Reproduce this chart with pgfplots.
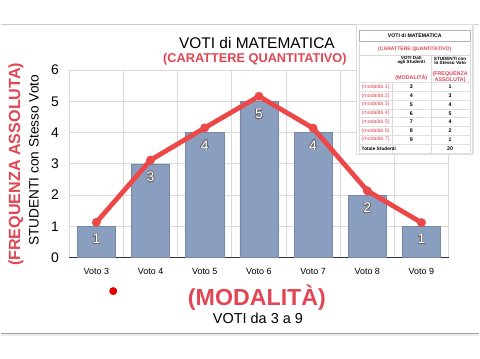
\documentclass[border=0pt]{standalone}
\usepackage{pgfplots}
\pgfplotsset{compat=1.18}
\usepackage{fontspec}
\setmainfont{Liberation Sans}
\usepackage{contour}
\contourlength{0.6pt}
\definecolor{barblue}{RGB}{138,159,191}
\definecolor{redline}{RGB}{236,72,72}
\definecolor{redtxt}{RGB}{226,70,84}
\definecolor{gridgray}{RGB}{218,218,218}
\newcommand{\fs}[1]{\fontsize{#1}{#1}\selectfont}
\begin{document}
\begin{tikzpicture}
\begin{scope}[x=1pt,y=1pt]
\path[fill=white] (0,0) rectangle (480,360);
\draw[gray!40, line width=0.8pt] (0,335.7) -- (480,335.7);
\draw[gray!15, line width=2pt] (0,23.5) -- (480,23.5);
\draw[gray!75, line width=1.1pt] (0,25.3) -- (480,25.3);
\end{scope}
\begin{axis}[
  at={(68.6pt,101.3pt)}, anchor=south west,
  scale only axis, width=380.8pt, height=188.4pt,
  xmin=-0.5, xmax=6.5, ymin=0, ymax=6,
  axis x line*=bottom, axis y line*=left,
  x axis line style={-, black!80, line width=1.2pt},
  y axis line style={draw=none},
  xtick={0,...,6},
  xticklabels={Voto 3,Voto 4,Voto 5,Voto 6,Voto 7,Voto 8,Voto 9},
  ytick={0,...,6},
  minor xtick={-0.5,0.5,...,6.5},
  major tick length=0pt, minor tick length=0pt,
  tick style={draw=none},
  ymajorgrids, xminorgrids,
  major grid style={gridgray, line width=0.8pt},
  minor grid style={gridgray, line width=0.8pt},
  xticklabel style={font=\fs{9}, yshift=-7pt},
  yticklabel style={font=\fs{14}, xshift=-7pt},
  /pgf/number format/assume math mode=true,
  clip=false,
]
\addplot[ybar, bar width=0.704, fill=barblue, draw=barblue!85!black, line width=0.4pt]
  coordinates {(0,1) (1,3) (2,4) (3,5) (4,4) (5,2) (6,1)};
\addplot[redline, line width=4.8pt, line join=round, mark=*, mark size=4.2pt,
  mark options={fill=redline, draw=redline, line width=0.5pt}]
  coordinates {(0,1.13) (1,3.12) (2,4.15) (3,5.16) (4,4.14) (5,2.14) (6,1.12)};
\addplot[draw=none, mark=none, nodes near coords={\contour{black!60}{\pgfmathprintnumber{\pgfplotspointmeta}}},
  every node near coord/.append style={anchor=north, yshift=-4.5pt, font=\fs{14}, text=white}]
  coordinates {(0,1) (1,3) (2,4) (3,5) (4,4) (5,2) (6,1)};
\end{axis}
\begin{scope}[x=1pt,y=1pt]
% titles
\node[font=\fs{15.5}, inner sep=0] at (257,316.5) {VOTI di MATEMATICA};
\node[font=\fs{12.8}\bfseries, text=redtxt, inner sep=0] at (255,301) {(CARATTERE QUANTITATIVO)};
\node[font=\fs{23.3}\bfseries, text=redtxt, inner sep=0] at (257,61) {(MODALITÀ)};
\node[font=\fs{14.5}, inner sep=0] at (258,40.5) {VOTI da 3 a 9};
\node[font=\fs{13.7}, rotate=90, inner sep=0] at (33,199) {STUDENTI con Stesso Voto};
\node[font=\fs{16.2}\bfseries, text=redtxt, rotate=90, inner sep=0] at (15,195) {(FREQUENZA ASSOLUTA)};
\fill[red!90!black] (112.7,67.7) circle (4);
% table
\fill[gray!25] (356,204) rectangle (474.5,336);
\fill[white] (357,205) rectangle (473,335);
\draw[gray!60, line width=0.4pt] (359.5,330) rectangle (471.5,319);
\node[font=\fs{5.2}\bfseries] at (415.5,324.5) {VOTI di MATEMATICA};
\node[font=\fs{5.1}\bfseries, text=redtxt] at (415.5,311) {(CARATTERE QUANTITATIVO)};
\node[font=\fs{4.6}\bfseries, align=center, inner sep=0] at (412,299) {VOTI Dati\\[-0.5pt]agli Studenti};
\node[font=\fs{4.6}\bfseries, align=center, inner sep=0] at (451,299) {STUDENTI con\\[-0.5pt]lo Stesso Voto};
\node[font=\fs{5.4}\bfseries, text=redtxt, inner sep=0] at (412,282) {(MODALITÀ)};
\node[font=\fs{5.4}\bfseries, text=redtxt, align=center, inner sep=0] at (451,283) {(FREQUENZA\\[0.5pt]ASSOLUTA)};
\draw[gray!30, line width=0.3pt] (359.5,305) -- (471.5,305);
\draw[gray!30, line width=0.3pt] (432,305) -- (432,206);
\draw[gray!30, line width=0.3pt] (393,277) -- (393,206);
\draw[gray!30, line width=0.3pt] (359.5,317) -- (359.5,206);
\draw[gray!30, line width=0.3pt] (471.5,317) -- (471.5,206);
\foreach \m/\v/\f [count=\k from 0] in {1/3/1,2/4/3,3/5/4,4/6/5,5/7/4,6/8/2,7/9/1}{
  \pgfmathsetmacro{\yy}{360-87.3-8.8*\k}
  \draw[gray!25, line width=0.3pt] (359.5,\yy+4.4) -- (471.5,\yy+4.4);
  \node[font=\fs{5.3}, text=redtxt, anchor=west, inner sep=0] at (362,\yy) {(modalità \m)};
  \node[font=\fs{5.3}\bfseries, inner sep=0] at (412,\yy) {\v};
  \node[font=\fs{5.3}\bfseries, inner sep=0] at (451,\yy) {\f};
}
\draw[gray!25, line width=0.3pt] (359.5,215.4) -- (471.5,215.4);
\draw[gray!25, line width=0.3pt] (359.5,206) -- (471.5,206);
\node[font=\fs{4.8}\bfseries, anchor=west, inner sep=0] at (362,211) {Totale Studenti};
\node[font=\fs{5.3}\bfseries, inner sep=0] at (451,211) {20};
\end{scope}
\end{tikzpicture}
\end{document}
